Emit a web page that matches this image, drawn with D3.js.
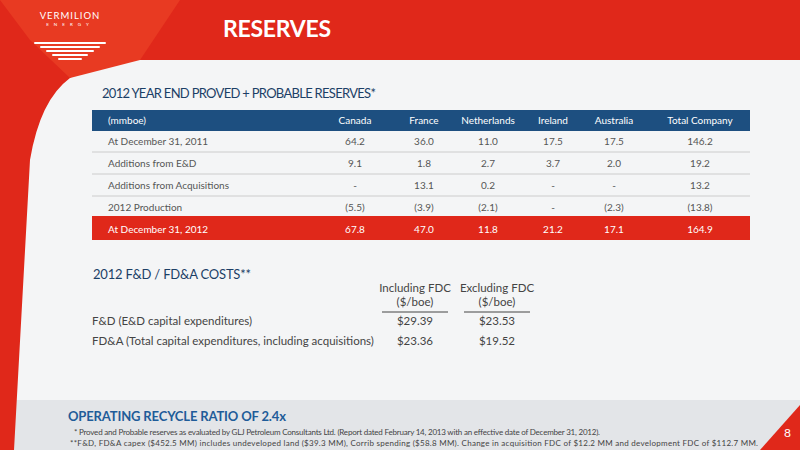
<!DOCTYPE html>
<html><head><meta charset="utf-8">
<script src="https://d3js.org/d3.v7.min.js"></script>
<style>body{margin:0}svg{font-family:Lato,"Open Sans",sans-serif}</style>
</head><body><script>
// reserves table (mmboe)
var columns = ["Canada", "France", "Netherlands", "Ireland", "Australia", "Total Company"];
var rowLabels = ["At December 31, 2011", "Additions from E&D", "Additions from Acquisitions", "2012 Production", "At December 31, 2012"];
var rowValues = [
  ["64.2", "36.0", "11.0", "17.5", "17.5", "146.2"],
  ["9.1", "1.8", "2.7", "3.7", "2.0", "19.2"],
  ["-", "13.1", "0.2", "-", "-", "13.2"],
  ["(5.5)", "(3.9)", "(2.1)", "-", "(2.3)", "(13.8)"],
  ["67.8", "47.0", "11.8", "21.2", "17.1", "164.9"]
];
// costs table
var costHeads = [["Including FDC", "($/boe)"], ["Excluding FDC", "($/boe)"]];
var costLabels = ["F&D (E&D capital expenditures)", "FD&A (Total capital expenditures, including acquisitions)"];
var costValues = [["$29.39", "$23.53"], ["$23.36", "$19.52"]];

var W = 800, H = 450;
var svg = d3.select("body").append("svg").attr("width", W).attr("height", H);
var red = "#e0281a", blue = "#1d4f80";

// background
svg.append("rect").attr("width", W).attr("height", H).attr("fill", "#f4f5f6");
svg.append("rect").attr("y", 400).attr("width", W).attr("height", 50).attr("fill", "#e3e5e8");
// header band and left border
svg.append("rect").attr("width", W).attr("height", 60).attr("fill", red);
svg.append("path").attr("d", "M0,0 L185,0 L70,78 Q40,100 30,160 L14,450 L0,450 Z").attr("fill", red);
svg.append("path").attr("d", "M0,0 L180,0 L140,60 L70,78 L30,40 Z").attr("fill", "#e83a22");
svg.append("path").attr("d", "M800,405 L800,450 L760,450 Z").attr("fill", red);

// logo
svg.append("text").attr("x", 70).attr("y", 19).attr("text-anchor", "middle").attr("fill", "#fff")
  .attr("font-size", 9.5).attr("letter-spacing", 1).text("VERMILION");
svg.append("text").attr("x", 70).attr("y", 26).attr("text-anchor", "middle").attr("fill", "#fff")
  .attr("font-size", 4.5).attr("letter-spacing", 5).text("ENERGY");
[42, 46, 50, 54, 58].forEach(function(y, i) {
  var w = 36 - i * 6;
  svg.append("rect").attr("x", 70 - w).attr("y", y).attr("width", w * 2).attr("height", 2).attr("rx", 1).attr("fill", "#fff");
});

svg.append("text").attr("x", 223).attr("y", 37).attr("fill", "#fff").attr("font-size", 23).attr("font-weight", "bold")
  .attr("textLength", 108).text("RESERVES");

// section 1
svg.append("text").attr("x", 102).attr("y", 98).attr("fill", "#1c3f66").attr("font-size", 13)
  .attr("textLength", 274).text("2012 YEAR END PROVED + PROBABLE RESERVES*");

var colX = d3.scaleOrdinal().domain(columns).range([355, 424, 488, 553, 614, 700]);
var rowY = d3.scaleBand().domain(d3.range(rowLabels.length)).range([130, 240]);

svg.append("rect").attr("x", 92).attr("y", 110).attr("width", 658).attr("height", 21).attr("fill", blue);
svg.append("text").attr("x", 108).attr("y", 124).attr("fill", "#fff").attr("font-size", 10).text("(mmboe)");
columns.forEach(function(c) {
  svg.append("text").attr("x", colX(c)).attr("y", 124).attr("text-anchor", "middle").attr("fill", "#fff").attr("font-size", 10).text(c);
});
rowLabels.forEach(function(lab, i) {
  var y0 = rowY(i), last = i === rowLabels.length - 1;
  if (last) svg.append("rect").attr("x", 92).attr("y", y0 - 2).attr("width", 658).attr("height", 24).attr("fill", red);
  else svg.append("line").attr("x1", 92).attr("x2", 750).attr("y1", y0 + rowY.bandwidth()).attr("y2", y0 + rowY.bandwidth()).attr("stroke", "#ccc");
  var fill = last ? "#fff" : "#555";
  svg.append("text").attr("x", 108).attr("y", y0 + 15).attr("fill", fill).attr("font-size", 10).text(lab);
  rowValues[i].forEach(function(v, j) {
    svg.append("text").attr("x", colX(columns[j])).attr("y", y0 + 15).attr("text-anchor", "middle").attr("fill", fill).attr("font-size", 10).text(v);
  });
});

// section 2
svg.append("text").attr("x", 93).attr("y", 279).attr("fill", "#1c3f66").attr("font-size", 13)
  .attr("textLength", 158).text("2012 F&D / FD&A COSTS**");
var cx = [415, 497];
costHeads.forEach(function(h, j) {
  h.forEach(function(t, k) {
    svg.append("text").attr("x", cx[j]).attr("y", 292 + k * 14).attr("text-anchor", "middle").attr("fill", "#444").attr("font-size", 11.5).text(t);
  });
  svg.append("line").attr("x1", cx[j] - 33).attr("x2", cx[j] + 33).attr("y1", 312).attr("y2", 312).attr("stroke", "#444");
});
costLabels.forEach(function(l, i) {
  var y = 325 + i * 20;
  svg.append("text").attr("x", 92).attr("y", y).attr("fill", "#444").attr("font-size", 11.5).text(l);
  costValues[i].forEach(function(v, j) {
    svg.append("text").attr("x", cx[j]).attr("y", y).attr("text-anchor", "middle").attr("fill", "#444").attr("font-size", 11.5).text(v);
  });
});

// footer
svg.append("text").attr("x", 68).attr("y", 421).attr("fill", "#1f5c99").attr("font-size", 13).attr("font-weight", "bold")
  .attr("textLength", 218).text("OPERATING RECYCLE RATIO OF 2.4x");
svg.append("text").attr("x", 74).attr("y", 435).attr("fill", "#444").attr("font-size", 8)
  .attr("textLength", 526).text("*  Proved and Probable reserves as evaluated by GLJ Petroleum Consultants Ltd. (Report dated February 14, 2013 with an effective date of December 31, 2012).");
svg.append("text").attr("x", 70).attr("y", 446).attr("fill", "#444").attr("font-size", 8)
  .attr("textLength", 688).text("**F&D, FD&A capex ($452.5 MM) includes undeveloped land ($39.3 MM), Corrib spending ($58.8 MM). Change in acquisition FDC of $12.2 MM and development FDC of $112.7 MM.");
svg.append("text").attr("x", 784).attr("y", 437).attr("fill", "#fff").attr("font-size", 12).text("8");
</script></body></html>
